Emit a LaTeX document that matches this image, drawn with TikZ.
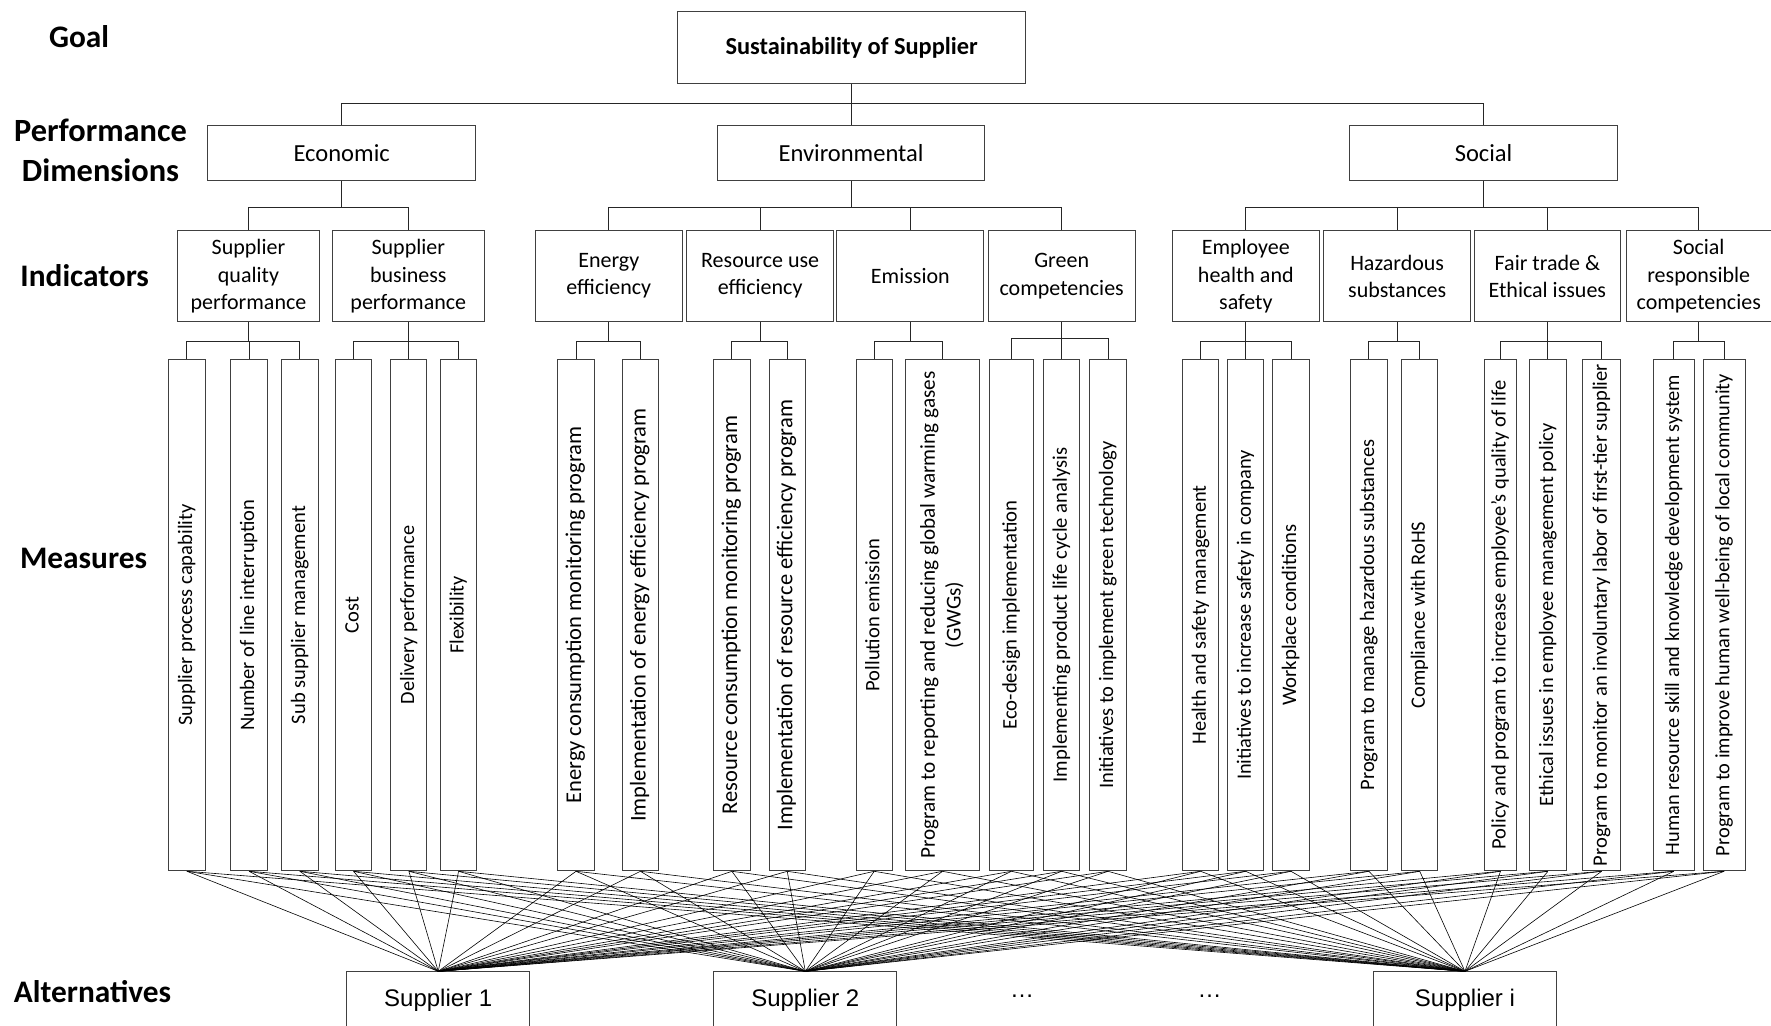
\documentclass[tikz,border=0pt]{standalone}
\usepackage{fontspec}
\setmainfont{Carlito}
\newfontfamily\altfont{Liberation Sans}
\newcommand{\vtext}[1]{\rotatebox{90}{\begin{tabular}{@{}c@{}}#1\end{tabular}}}

\begin{document}
\begin{tikzpicture}[x=0.847pt, y=-0.847pt,
    box/.style={draw=black!75, line width=0.7pt, fill=white, inner sep=0pt, align=center},
    dimbox/.style={box, minimum width=237*0.847pt, minimum height=49*0.847pt, font=\fontsize{18.4}{22}\selectfont},
    indbox/.style={box, minimum width=#1*0.847pt, minimum height=81*0.847pt, font=\fontsize{16.5}{20.3}\selectfont},
    mesbox/.style={box, minimum width=#1*0.847pt, minimum height=453*0.847pt},
    altbox/.style={box, minimum width=162*0.847pt, minimum height=50*0.847pt, anchor=north, font=\altfont\fontsize{18}{22}\selectfont},
    lvl/.style={font=\fontsize{23.5}{30}\selectfont\bfseries, align=center},
    tree/.style={draw=black!85, line width=0.7pt},
    link/.style={draw=black, line width=0.45pt}]
    \useasboundingbox (0,0) rectangle (1568,908);

    % Level labels
    \node[lvl] (goallbl) at (70,32) {Goal};
    \node[lvl, font=\fontsize{24.3}{30}\selectfont\bfseries] (dimlbl) at (89,133) {Performance\\Dimensions};
    \node[lvl] (indlbl) at (75,244) {Indicators};
    \node[lvl] (meslbl) at (74,494) {Measures};
    \node[lvl] (altlbl) at (82,878) {Alternatives};

    % Goal
    \node[box, minimum width=308*0.847pt, minimum height=64*0.847pt, font=\fontsize{18.3}{22}\selectfont\bfseries] (goal) at (754,42) {Sustainability of Supplier};

    % Performance dimensions
    \node[dimbox] (eco) at (302.5,135.5) {Economic};
    \node[dimbox] (env) at (753.5,135.5) {Environmental};
    \node[dimbox] (soc) at (1313.5,135.5) {Social};
    \foreach \d in {eco,env,soc}
        \draw[tree] (goal.south) -- (goal.south |- 0,92) -| (\d.north);

    % Indicators
    \node[indbox=126] (sqp) at (220,244.5) {Supplier\\quality\\performance};
    \node[indbox=135] (sbp) at (361.5,244.5) {Supplier\\business\\performance};
    \node[indbox=130] (enr) at (539,244.5) {Energy\\efficiency};
    \node[indbox=130] (res) at (673,244.5) {Resource use\\efficiency};
    \node[indbox=130] (emi) at (806,244.5) {Emission};
    \node[indbox=130] (grn) at (940,244.5) {Green\\competencies};
    \node[indbox=130] (ehs) at (1103,244.5) {Employee\\health and\\safety};
    \node[indbox=130] (haz) at (1237,244.5) {Hazardous\\substances};
    \node[indbox=130] (fte) at (1370,244.5) {Fair trade \&\\Ethical issues};
    \node[indbox=128] (src) at (1504,244.5) {Social\\responsible\\competencies};
    \foreach \p/\c in {eco/sqp, eco/sbp, env/enr, env/res, env/emi, env/grn, soc/ehs, soc/haz, soc/fte, soc/src}
        \draw[tree] (\p.south) -- (\p.south |- 0,184) -| (\c.north);

    % Measures
    \foreach \n/\x/\w/\f/\t in {
        1/165.5/33/15.4/Supplier process capability,
        2/220.5/33/15.4/Number of line interruption,
        3/265.5/33/15.4/Sub supplier management,
        4/313/32/15.4/Cost,
        5/362/32/15.2/Delivery performance,
        6/406/32/15.2/Flexibility,
        7/510/32/16.9/Energy consumption monitoring program,
        8/567/32/16.9/Implementation of energy efficiency program,
        9/648/32/16.9/Resource consumption monitoring program,
        10/697/32/16.9/Implementation of resource efficiency program,
        11/774/32/15.4/Pollution emission,
        12/834.5/65/15.9/Program to reporting and reducing global warming gases\\(GWGs),
        13/895.5/39/15.5/Eco-design implementation,
        14/940/32/15.5/Implementing product life cycle analysis,
        15/981/32/15.4/Initiatives to implement green technology,
        16/1063/32/15.3/Health and safety management,
        17/1103/32/15.3/Initiatives to increase safety in company,
        18/1143/32/15.5/Workplace conditions,
        19/1212/32/15.4/Program to manage hazardous substances,
        20/1257/32/15.3/Compliance with RoHS,
        21/1328.5/29/15.4/Policy and program to increase employee’s quality of life,
        22/1370.5/33/15.3/Ethical issues in employee management policy,
        23/1418/34/15.4/Program to monitor an involuntary labor of first-tier supplier,
        24/1482/36/15.3/Human resource skill and knowledge development system,
        25/1526.5/37/15.3/Program to improve human well-being of local community}
        \node[mesbox=\w, font=\fontsize{\f}{19.3}\selectfont] (m\n) at (\x,544.5) {\vtext{\t}};
    \foreach \p/\c/\y in {sqp/m1/302, sqp/m2/302, sqp/m3/302, sbp/m4/302, sbp/m5/302, sbp/m6/302,
        enr/m7/302, enr/m8/302, res/m9/302, res/m10/302, emi/m11/302, emi/m12/302,
        grn/m13/300, grn/m14/300, grn/m15/300, ehs/m16/302, ehs/m17/302, ehs/m18/302,
        haz/m19/302, haz/m20/302, fte/m21/302, fte/m22/302, fte/m23/302, src/m24/302, src/m25/302}
        \draw[tree] (\p.south) -- (\p.south |- 0,\y) -| (\c.north);

    % Alternatives
    \node[altbox] (s1) at (388,860) {Supplier 1};
    \node[altbox] (s2) at (713,860) {Supplier 2};
    \node[altbox] (si) at (1297,860) {Supplier i};
    \node[font=\altfont\fontsize{18}{22}\selectfont] (dots1) at (905,882) {…};
    \node[font=\altfont\fontsize{18}{22}\selectfont] (dots2) at (1071,882) {…};
    \foreach \m in {1,...,25}
        \foreach \s in {s1,s2,si}
            \draw[link] (m\m.south) -- (\s.north);
\end{tikzpicture}
\end{document}
